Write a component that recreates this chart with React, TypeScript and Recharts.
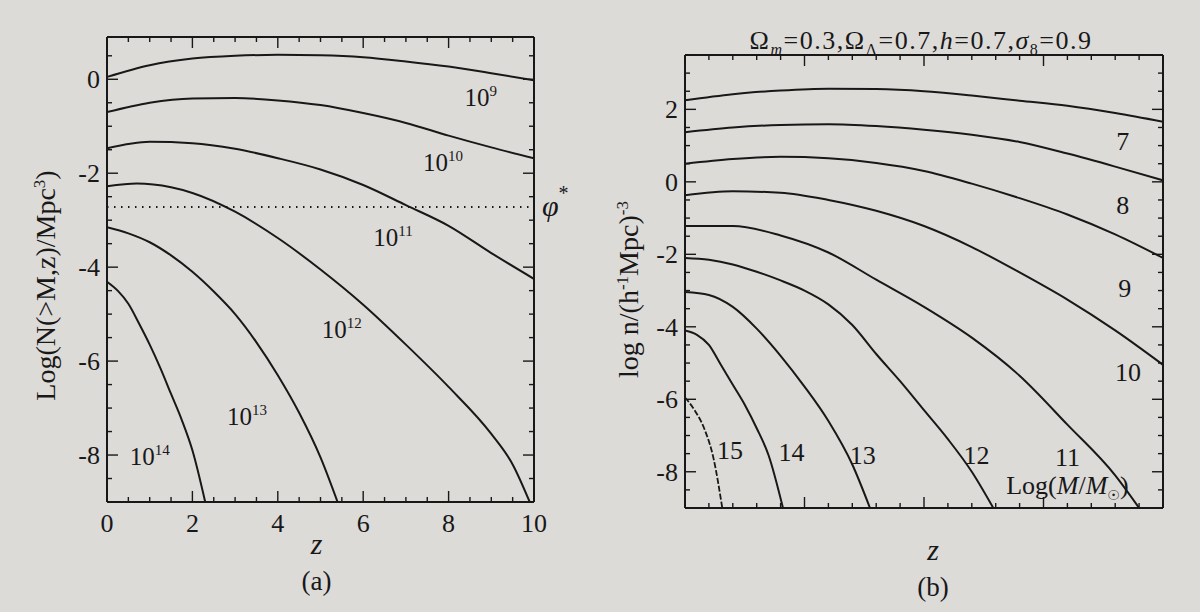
import React from "react";
import { LineChart, Line, XAxis, YAxis, ReferenceLine, ReferenceDot } from "recharts";

const INK = "#181818";
const PAPER = "#dddbd8";
const SERIF = '"Liberation Serif", "Times New Roman", serif';

// ---------- (a) Log N(>M,z) per Mpc^3, one curve per halo mass ----------
const zA = [0, 1, 2, 3, 4, 5, 6, 7, 8, 9, 10];
const logNA9 = [0.05, 0.3, 0.44, 0.5, 0.52, 0.51, 0.47, 0.38, 0.27, 0.13, -0.02];
const logNA10 = [-0.7, -0.5, -0.41, -0.4, -0.45, -0.55, -0.72, -0.93, -1.2, -1.45, -1.68];
const logNA11 = [-1.47, -1.33, -1.36, -1.48, -1.68, -1.92, -2.25, -2.68, -3.12, -3.7, -4.25];
const zA12 = [0, 0.7, 1.5, 2, 3, 4, 5, 6, 7, 8, 9, 9.5, 9.9];
const logNA12 = [-2.28, -2.22, -2.3, -2.42, -2.82, -3.38, -4.05, -4.8, -5.65, -6.55, -7.55, -8.2, -9.0];
const zA13 = [0, 0.5, 1, 1.5, 2, 2.5, 3, 3.5, 4, 4.5, 5, 5.4];
const logNA13 = [-3.15, -3.28, -3.47, -3.75, -4.1, -4.52, -5.0, -5.6, -6.3, -7.1, -8.05, -9.0];
const zA14 = [0, 0.25, 0.5, 0.75, 1, 1.25, 1.5, 1.75, 2, 2.3];
const logNA14 = [-4.31, -4.5, -4.78, -5.2, -5.65, -6.15, -6.7, -7.25, -7.9, -9.0];
const PHI_STAR = -2.72;

const massExpA = ["9", "10", "11", "12", "13", "14"];
const massLabelZA = [8.75, 7.87, 6.7, 5.5, 3.28, 1.0];
const massLabelNA = [-0.4, -1.79, -3.38, -5.34, -7.19, -8.04];

const xTicksA = [0, 0.5, 1, 1.5, 2, 2.5, 3, 3.5, 4, 4.5, 5, 5.5, 6, 6.5, 7, 7.5, 8, 8.5, 9, 9.5, 10];
const xLabelsA = [0, 2, 4, 6, 8, 10];
const yTicksA = [-9, -8.5, -8, -7.5, -7, -6.5, -6, -5.5, -5, -4.5, -4, -3.5, -3, -2.5, -2, -1.5, -1, -0.5, 0, 0.5];
const yLabelsA = [-8, -6, -4, -2, 0];

// ---------- (b) log n / (h^-1 Mpc)^-3, curves by log(M/Msun) ----------
const zB = [0, 1, 2, 3, 4, 5, 6, 7, 8, 9, 10];
const logNB7 = [2.25, 2.42, 2.52, 2.57, 2.56, 2.5, 2.38, 2.24, 2.1, 1.9, 1.66];
const logNB8 = [1.37, 1.5, 1.57, 1.59, 1.54, 1.44, 1.3, 1.1, 0.78, 0.42, 0.04];
const logNB9 = [0.5, 0.63, 0.69, 0.65, 0.52, 0.3, -0.05, -0.45, -0.9, -1.45, -2.1];
const logNB10 = [-0.37, -0.26, -0.3, -0.5, -0.8, -1.22, -1.8, -2.5, -3.25, -4.1, -5.05];
const zB11 = [0, 1, 2, 3, 4, 5, 6, 7, 8, 9, 9.5];
const logNB11 = [-1.22, -1.22, -1.48, -1.95, -2.7, -3.45, -4.3, -5.35, -6.7, -8.1, -9.0];
const zB12 = [0, 0.5, 1, 1.5, 2, 2.5, 3, 3.5, 4, 4.5, 5, 5.5, 6, 6.45];
const logNB12 = [-2.1, -2.15, -2.28, -2.48, -2.72, -3.0, -3.38, -3.95, -4.75, -5.5, -6.3, -7.1, -8.0, -9.0];
const zB13 = [0, 0.5, 1, 1.5, 2, 2.5, 3, 3.5, 3.87];
const logNB13 = [-3.04, -3.12, -3.45, -4.05, -4.8, -5.65, -6.6, -7.8, -9.0];
const zB14 = [0, 0.25, 0.5, 0.75, 1, 1.25, 1.5, 1.75, 2.05];
const logNB14 = [-4.1, -4.22, -4.5, -5.05, -5.6, -6.15, -6.8, -7.55, -9.0];
const zB15 = [0, 0.2, 0.4, 0.6, 0.78];
const logNB15 = [-5.95, -6.3, -6.8, -7.65, -9.0];

const massTextB = ["7", "8", "9", "10", "11", "12", "13", "14", "15"];
const massLabelZB = [9.16, 9.16, 9.2, 9.27, 8.0, 6.1, 3.72, 2.23, 0.94];
const massLabelNB = [1.14, -0.64, -2.93, -5.24, -7.58, -7.53, -7.53, -7.45, -7.4];

const xTicksB = [0, 0.5, 1, 1.5, 2, 2.5, 3, 3.5, 4, 4.5, 5, 5.5, 6, 6.5, 7, 7.5, 8, 8.5, 9, 9.5, 10];
const xMajorB = [2.5, 5, 7.5];
const yTicksB = [-9, -8.5, -8, -7.5, -7, -6.5, -6, -5.5, -5, -4.5, -4, -3.5, -3, -2.5, -2, -1.5, -1, -0.5, 0, 0.5, 1, 1.5, 2, 2.5, 3, 3.5];
const yLabelsB = [-8, -6, -4, -2, 0, 2];

const pts = (zs: number[], ns: number[]) => zs.map((z, i) => ({ z, n: ns[i] }));

const seriesA = [
  pts(zA, logNA9),
  pts(zA, logNA10),
  pts(zA, logNA11),
  pts(zA12, logNA12),
  pts(zA13, logNA13),
  pts(zA14, logNA14),
];
const seriesB = [
  pts(zB, logNB7),
  pts(zB, logNB8),
  pts(zB, logNB9),
  pts(zB, logNB10),
  pts(zB11, logNB11),
  pts(zB12, logNB12),
  pts(zB13, logNB13),
  pts(zB14, logNB14),
];

type Side = "bottom" | "top" | "left" | "right";

// ticks point into the plot, longer on the majors
const tickMark = (side: Side, majors: number[], labels: number[]) => (props: any) => {
  const { x, y, payload } = props;
  const v = payload.value;
  const len = majors.includes(v) ? 11 : 5;
  let x2 = x;
  let y2 = y;
  if (side === "bottom") y2 = y - len;
  if (side === "top") y2 = y + len;
  if (side === "left") x2 = x + len;
  if (side === "right") x2 = x - len;
  const show = labels.includes(v);
  return (
    <g>
      <line x1={x} y1={y} x2={x2} y2={y2} stroke={INK} strokeWidth={1.4} />
      {show && side === "bottom" && (
        <text x={x} y={y + 30} textAnchor="middle" fontFamily={SERIF} fontSize={26} fill={INK}>
          {String(v)}
        </text>
      )}
      {show && side === "left" && (
        <text x={x - 7} y={y + 9} textAnchor="end" fontFamily={SERIF} fontSize={26} fill={INK}>
          {String(v)}
        </text>
      )}
    </g>
  );
};

const supLabel = (exp: string) => (p: any) => (
  <text x={p.cx} y={p.cy + 8} textAnchor="middle" fontFamily={SERIF} fontSize={25} fill={INK}>
    10
    <tspan dy={-10} fontSize={15}>
      {exp}
    </tspan>
  </text>
);

const plainLabel = (t: string) => (p: any) => (
  <text x={p.cx} y={p.cy + 9} textAnchor="middle" fontFamily={SERIF} fontSize={26} fill={INK}>
    {t}
  </text>
);

const sunLabel = (p: any) => (
  <text x={p.cx} y={p.cy + 9} textAnchor="middle" fontFamily={SERIF} fontSize={26} fill={INK}>
    Log(<tspan fontStyle="italic">M</tspan>/<tspan fontStyle="italic">M</tspan>
    <tspan dy={6} fontSize={14} fontFamily="DejaVu Sans">
      ☉
    </tspan>
    <tspan dy={-6}>)</tspan>
  </text>
);

const phiLabel = (p: any) => {
  const vb = p.viewBox;
  return (
    <text x={vb.x + vb.width + 8} y={vb.y + 9} fontFamily={SERIF} fontSize={30} fontStyle="italic" fill={INK}>
      φ
      <tspan dy={-16} fontSize={20} fontStyle="normal">
        *
      </tspan>
    </text>
  );
};

const yTitleA = (p: any) => {
  const vb = p.viewBox;
  const cy = vb.y + vb.height / 2 + 16;
  return (
    <text transform={`translate(${vb.x - 51} ${cy}) rotate(-90)`} textAnchor="middle" fontFamily={SERIF} fontSize={28} fill={INK}>
      {"Log(N(>M,z)/Mpc"}
      <tspan dy={-10} fontSize={17}>
        3
      </tspan>
      <tspan dy={10}>)</tspan>
    </text>
  );
};

const yTitleB = (p: any) => {
  const vb = p.viewBox;
  const cy = vb.y + vb.height / 2 + 8;
  return (
    <text transform={`translate(${vb.x - 46} ${cy}) rotate(-90)`} textAnchor="middle" fontFamily={SERIF} fontSize={28} fill={INK}>
      {"log n/(h"}
      <tspan dy={-10} fontSize={17}>
        -1
      </tspan>
      <tspan dy={10}>Mpc)</tspan>
      <tspan dy={-10} fontSize={17}>
        -3
      </tspan>
    </text>
  );
};

const xTitle = (tag: string, dx: number) => (p: any) => {
  const vb = p.viewBox;
  const cx = vb.x + vb.width / 2 + dx;
  return (
    <g fill={INK}>
      <text x={cx} y={vb.y + 52} textAnchor="middle" fontFamily={SERIF} fontSize={30} fontStyle="italic">
        z
      </text>
      <text x={cx} y={vb.y + 88} textAnchor="middle" fontFamily={SERIF} fontSize={27}>
        {tag}
      </text>
    </g>
  );
};

const titleB = (p: any) => {
  const vb = p.viewBox;
  return (
    <text x={vb.x + vb.width / 2 - 3} y={vb.y - 5} textAnchor="middle" fontFamily={SERIF} fontSize={26} letterSpacing={1.5} fill={INK}>
      Ω
      <tspan dy={6} fontSize={16} fontStyle="italic">
        m
      </tspan>
      <tspan dy={-6}>=0.3,Ω</tspan>
      <tspan dy={6} fontSize={16}>
        Λ
      </tspan>
      <tspan dy={-6}>=0.7,</tspan>
      <tspan fontStyle="italic">h</tspan>
      <tspan>=0.7,</tspan>
      <tspan fontStyle="italic">σ</tspan>
      <tspan dy={6} fontSize={16}>
        8
      </tspan>
      <tspan dy={-6}>=0.9</tspan>
    </text>
  );
};

const frame = { stroke: INK, strokeWidth: 2 };

// shared settings for the four frame axes of each panel (1px thick so they render)
const edge = {
  type: "number" as const,
  interval: 0 as const,
  tickSize: 0,
  tickMargin: 0,
  tickLine: false,
  axisLine: frame,
  allowDataOverflow: true,
};

export default function App() {
  return (
    <div style={{ position: "absolute", left: 0, top: 0, width: 1200, height: 612, background: PAPER, overflow: "hidden" }}>
      <div style={{ position: "absolute", left: 0, top: 0 }}>
        <LineChart width={600} height={612} margin={{ top: 36, right: 65, bottom: 109, left: 106 }}>
          <XAxis
            {...edge}
            dataKey="z"
            domain={[0, 10]}
            ticks={xTicksA}
            height={1}
            tick={tickMark("bottom", xLabelsA, xLabelsA)}
            label={xTitle("(a)", -4)}
          />
          <XAxis
            {...edge}
            xAxisId="top"
            orientation="top"
            dataKey="z"
            domain={[0, 10]}
            ticks={xTicksA}
            height={1}
            tick={tickMark("top", xLabelsA, [])}
          />
          <YAxis
            {...edge}
            domain={[-9, 0.9]}
            ticks={yTicksA}
            width={1}
            tick={tickMark("left", yLabelsA, yLabelsA)}
            label={yTitleA}
          />
          <YAxis
            {...edge}
            yAxisId="right"
            orientation="right"
            domain={[-9, 0.9]}
            ticks={yTicksA}
            width={1}
            tick={tickMark("right", yLabelsA, [])}
          />
          <ReferenceLine y={PHI_STAR} stroke={INK} strokeWidth={2} strokeDasharray="1.5 5.5" label={phiLabel} />
          {seriesA.map((d, i) => (
            <Line
              key={i}
              data={d}
              dataKey="n"
              type="monotone"
              stroke={INK}
              strokeWidth={2}
              dot={false}
              isAnimationActive={false}
            />
          ))}
          {massExpA.map((e, i) => (
            <ReferenceDot key={e} x={massLabelZA[i]} y={massLabelNA[i]} r={0} shape={supLabel(e)} />
          ))}
        </LineChart>
      </div>

      <div style={{ position: "absolute", left: 600, top: 0 }}>
        <LineChart width={600} height={612} margin={{ top: 54, right: 36, bottom: 103, left: 84 }}>
          <XAxis
            {...edge}
            dataKey="z"
            domain={[0, 10]}
            ticks={xTicksB}
            height={1}
            tick={tickMark("bottom", xMajorB, [])}
            label={xTitle("(b)", 9)}
          />
          <XAxis
            {...edge}
            xAxisId="top"
            orientation="top"
            dataKey="z"
            domain={[0, 10]}
            ticks={xTicksB}
            height={1}
            tick={tickMark("top", xMajorB, [])}
            label={titleB}
          />
          <YAxis
            {...edge}
            domain={[-9, 3.5]}
            ticks={yTicksB}
            width={1}
            tick={tickMark("left", yLabelsB, yLabelsB)}
            label={yTitleB}
          />
          <YAxis
            {...edge}
            yAxisId="right"
            orientation="right"
            domain={[-9, 3.5]}
            ticks={yTicksB}
            width={1}
            tick={tickMark("right", yLabelsB, [])}
          />
          {seriesB.map((d, i) => (
            <Line
              key={i}
              data={d}
              dataKey="n"
              type="monotone"
              stroke={INK}
              strokeWidth={2}
              dot={false}
              isAnimationActive={false}
            />
          ))}
          <Line
            data={pts(zB15, logNB15)}
            dataKey="n"
            type="monotone"
            stroke={INK}
            strokeWidth={1.8}
            strokeDasharray="6 2"
            dot={false}
            isAnimationActive={false}
          />
          {massTextB.map((t, i) => (
            <ReferenceDot key={t} x={massLabelZB[i]} y={massLabelNB[i]} r={0} shape={plainLabel(t)} />
          ))}
          <ReferenceDot x={8.0} y={-8.36} r={0} shape={sunLabel} />
        </LineChart>
      </div>
    </div>
  );
}
